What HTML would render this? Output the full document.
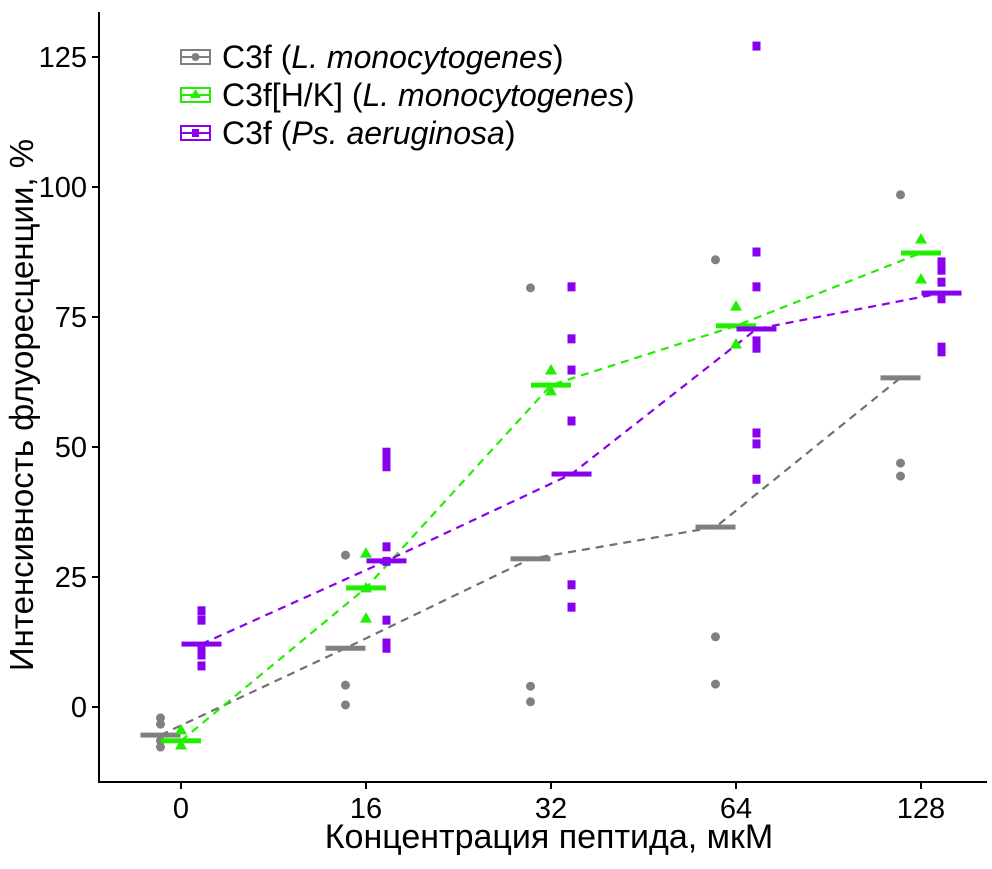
<!DOCTYPE html>
<html><head><meta charset="utf-8"><style>
body{margin:0;background:#fff}
svg text{font-family:"Liberation Sans",sans-serif;fill:#000}
</style></head><body>
<svg id="chart" width="992" height="864" xmlns="http://www.w3.org/2000/svg">
<g id="axes"></g>
<g id="lines"></g>
<g id="marks"></g>
<g id="legend">
  <g>
    <rect x="181" y="50" width="29" height="14" fill="none" stroke="#808080" stroke-width="2"/>
    <line x1="181" y1="57" x2="210" y2="57" stroke="#808080" stroke-width="2"/>
    <circle cx="195.5" cy="57" r="4" fill="#808080"/>
    <text x="222" y="68" font-size="32">C3f (<tspan font-style="italic">L. monocytogenes</tspan>)</text>
  </g>
  <g>
    <rect x="181" y="88" width="29" height="14" fill="none" stroke="#22ee00" stroke-width="2"/>
    <line x1="181" y1="95" x2="210" y2="95" stroke="#22ee00" stroke-width="2"/>
    <polygon points="195.5,89 201,98 190,98" fill="#22ee00"/>
    <text x="222" y="106" font-size="32">C3f[H/K] (<tspan font-style="italic">L. monocytogenes</tspan>)</text>
  </g>
  <g>
    <rect x="181" y="126" width="29" height="14" fill="none" stroke="#8800ee" stroke-width="2"/>
    <line x1="181" y1="133" x2="210" y2="133" stroke="#8800ee" stroke-width="2"/>
    <rect x="192" y="129" width="7" height="8" fill="#8800ee"/>
    <text x="222" y="144" font-size="32">C3f (<tspan font-style="italic">Ps. aeruginosa</tspan>)</text>
  </g>
</g>
<text x="549" y="848" font-size="34" text-anchor="middle">Концентрация пептида, мкМ</text>
<text transform="translate(33,405) rotate(-90)" font-size="33" text-anchor="middle">Интенсивность флуоресценции, %</text>
</svg>
<script>
const categories = ["0","16","32","64","128"];
const yTicks = [0,25,50,75,100,125];
const grayPoints = [[-2.1,-3.3,-6.5,-7.7],[29.2,4.2,0.4],[80.6,4.0,1.0],[86,13.5,4.4],[98.5,46.9,44.4]];
const grayMeans = [-5.4,11.3,28.5,34.6,63.3];
const greenPoints = [[-4.4,-7.3],[29.6,22.9,17.1],[64.8,60.8],[77.1,69.8],[90,82.3]];
const greenMeans = [-6.5,22.9,61.9,73.3,87.3];
const purplePoints = [[18.5,16.7,11,10,7.9],[49,47.5,46.2,30.8,28,16.7,12.3,11.3],[80.8,70.8,64.8,55,23.5,19.2],[127.1,87.5,80.8,70.4,69,52.7,50.6,43.8],[85.6,84,81.7,78.5,69.2,68.3]];
const purpleMeans = [12.1,28.1,44.8,72.7,79.6];

const NS="http://www.w3.org/2000/svg";
const xPos = i => 181 + i*185;
const yPos = v => 707 - v*5.2;
function mk(tag, attrs, parent){const e=document.createElementNS(NS,tag);for(const k in attrs)e.setAttribute(k,attrs[k]);parent.appendChild(e);return e;}
const axes=document.getElementById('axes'), lines=document.getElementById('lines'), marks=document.getElementById('marks');
let e;
e=mk('line',{x1:99,y1:12,x2:99,y2:783,stroke:'#000','stroke-width':2},axes);


e=mk('line',{x1:98,y1:782,x2:987,y2:782,stroke:'#000','stroke-width':2},axes);


yTicks.forEach(t=>{
  mk('line',{x1:92,y1:yPos(t),x2:99,y2:yPos(t),stroke:'#000','stroke-width':2},axes);
  e=mk('text',{x:87,y:yPos(t)+10,'font-size':29,'text-anchor':'end'},axes);
  e.textContent=t;
  
  
});
categories.forEach((c,i)=>{
  mk('line',{x1:xPos(i),y1:782,x2:xPos(i),y2:789,stroke:'#000','stroke-width':2},axes);
  e=mk('text',{x:xPos(i),y:818,'font-size':29,'text-anchor':'middle'},axes);
  e.textContent=c;
  
  
});
const series=[
  {name:'gray',color:'#808080',line:'#707070',off:-20.5,pts:grayPoints,means:grayMeans,shape:'circle'},
  {name:'green',color:'#22ee00',line:'#22ee00',off:0,pts:greenPoints,means:greenMeans,shape:'tri'},
  {name:'purple',color:'#8800ee',line:'#8800ee',off:20.5,pts:purplePoints,means:purpleMeans,shape:'sq'}
];
series.forEach(s=>{
  const d=s.means.map((m,i)=>(i?'L':'M')+(xPos(i)+s.off)+','+yPos(m)).join(' ');
  e=mk('path',{d:d,fill:'none',stroke:s.line,'stroke-width':2.2,'stroke-dasharray':'8,6'},lines);
  
  
  s.pts.forEach((arr,i)=>{
    const x=xPos(i)+s.off;
    arr.forEach(v=>{
      const y=yPos(v);
      if(s.shape==='circle') e=mk('circle',{cx:x,cy:y,r:4.5,fill:s.color},marks);
      else if(s.shape==='tri') e=mk('polygon',{points:`${x},${y-6} ${x+6},${y+4.5} ${x-6},${y+4.5}`,fill:s.color},marks);
      else e=mk('rect',{x:x-4,y:y-4.5,width:8,height:9,fill:s.color},marks);
      
      
    });
  });
  s.means.forEach((m,i)=>{
    e=mk('rect',{x:xPos(i)+s.off-20,y:yPos(m)-2.5,width:40,height:5,fill:s.color},marks);
    
    
  });
});
</script>
</body></html>
